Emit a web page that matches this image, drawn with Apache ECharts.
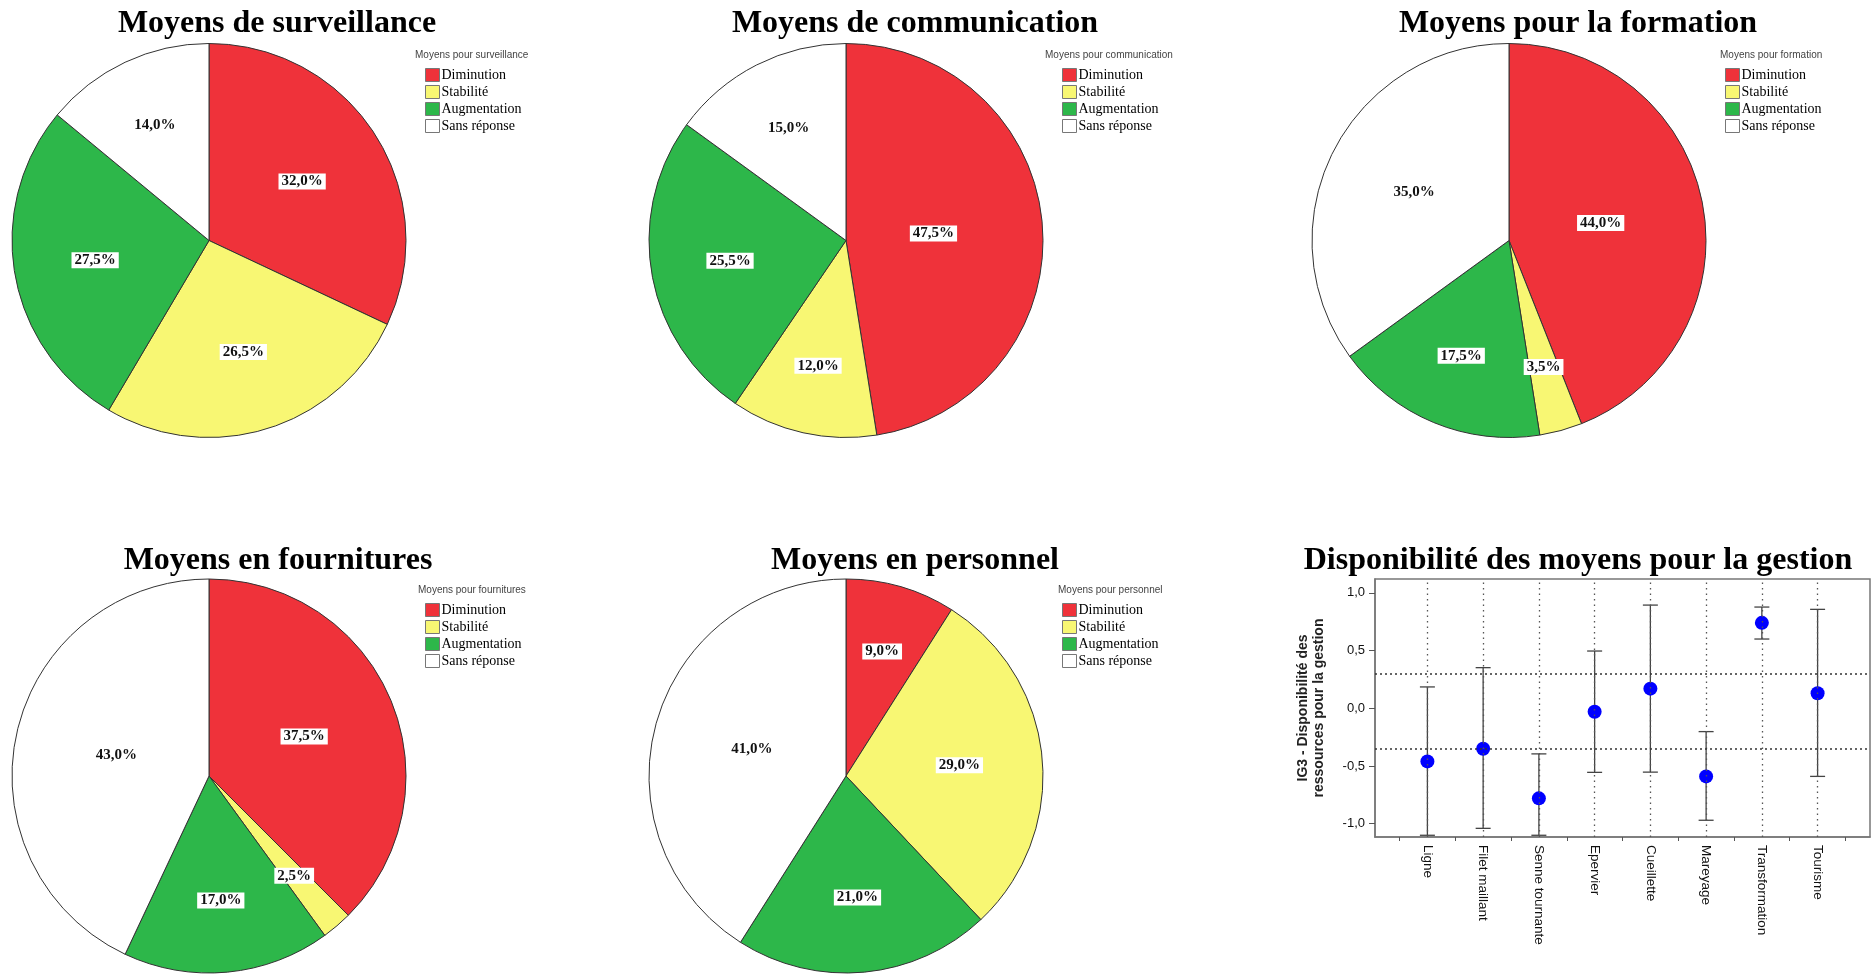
<!DOCTYPE html>
<html><head><meta charset="utf-8">
<script src="https://cdn.jsdelivr.net/npm/echarts@6/dist/echarts.min.js"></script>
<style>html,body{margin:0;padding:0;background:#fff}#c{width:1873px;height:977px}</style>
</head><body><div id="c"></div>
<script>
// ---- data ----
const pieNames = ['Diminution', 'Stabilité', 'Augmentation', 'Sans réponse'];
const pieTitles = ['Moyens de surveillance', 'Moyens de communication', 'Moyens pour la formation', 'Moyens en fournitures', 'Moyens en personnel'];
const legendTitles = ['Moyens pour surveillance', 'Moyens pour communication', 'Moyens pour formation', 'Moyens pour fournitures', 'Moyens pour personnel'];
const surveillance = [32.0, 26.5, 27.5, 14.0];
const communication = [47.5, 12.0, 25.5, 15.0];
const formation = [44.0, 3.5, 17.5, 35.0];
const fournitures = [37.5, 2.5, 17.0, 43.0];
const personnel = [9.0, 29.0, 21.0, 41.0];
const pieValues = [surveillance, communication, formation, fournitures, personnel];

const ig3Title = 'Disponibilité des moyens pour la gestion';
const ig3AxisName = 'IG3 - Disponibilité des\nressources pour la gestion';
const ig3Categories = ['Ligne', 'Filet maillant', 'Senne tournante', 'Epervier', 'Cueillette', 'Mareyage', 'Transformation', 'Tourisme'];
const ig3Means = [-0.46, -0.35, -0.78, -0.03, 0.17, -0.59, 0.74, 0.13];
const ig3Low = [-1.10, -1.04, -1.10, -0.555, -0.553, -0.97, 0.60, -0.59];
const ig3High = [0.185, 0.352, -0.395, 0.496, 0.894, -0.202, 0.877, 0.857];
const ig3Thresholds = [0.3, -0.35];
const ig3YTicks = [-1.0, -0.5, 0.0, 0.5, 1.0];

// ---- layout ----
const pieColors = ['#EF323A', '#F8F773', '#2DB74A', '#FFFFFF'];
const pieCenters = [[209, 240.5], [846, 240.5], [1509, 240.5], [209, 776], [846, 776]];
const pieR = 197;
const titleCenters = [[277, 8], [915, 8], [1578, 8], [278, 545], [915, 545], [1578, 545]];
const legendPos = [[425, 68], [1062, 68], [1725, 68], [425, 603], [1062, 603]];
const legendTitlePos = [[415, 49], [1045, 49], [1720, 49], [418, 584], [1058, 584]];

const fmt = v => v.toFixed(1).replace('.', ',');

function centroid(si, di) {
  const vals = pieValues[si];
  const total = vals.reduce((a, b) => a + b, 0);
  let before = 0;
  for (let i = 0; i < di; i++) before += vals[i];
  const frac = vals[di] / total;
  const mid = (before + vals[di] / 2) / total * 2 * Math.PI;
  const alpha = frac * Math.PI;
  const d = pieR * 2 * Math.sin(alpha) / (3 * alpha);
  const c = pieCenters[si];
  return [c[0] + d * Math.sin(mid), c[1] - d * Math.cos(mid)];
}

const titles = [];
pieTitles.concat([ig3Title]).forEach((t, i) => {
  titles.push({
    text: t, left: titleCenters[i][0], top: titleCenters[i][1], textAlign: 'center', padding: 0,
    textStyle: { fontFamily: 'Liberation Serif', fontWeight: 'bold', fontSize: 32, color: '#000', lineHeight: 32 }
  });
});
legendTitles.forEach((t, i) => {
  titles.push({
    text: t, left: legendTitlePos[i][0], top: legendTitlePos[i][1], padding: 0,
    textStyle: { fontFamily: 'Liberation Sans', fontWeight: 'normal', fontSize: 10, color: '#444', lineHeight: 12 }
  });
});

const legends = legendPos.map(p => ({
  data: pieNames, orient: 'vertical', left: p[0], top: p[1], padding: 0,
  icon: 'rect', itemWidth: 14, itemHeight: 13, itemGap: 3,
  selectedMode: false,
  itemStyle: { borderColor: '#777', borderWidth: 1 },
  textStyle: { fontFamily: 'Liberation Serif', fontSize: 14, color: '#000', padding: [0, 0, 0, -3], lineHeight: 14 }
}));

const series = pieValues.map((vals, si) => ({
  type: 'pie', center: pieCenters[si], radius: [0, pieR], startAngle: 90, clockwise: true,
  animation: false, silent: true,
  data: vals.map((v, i) => ({ name: pieNames[i], value: v, itemStyle: { color: pieColors[i] } })),
  itemStyle: { borderColor: '#333', borderWidth: 1 },
  label: {
    show: true, position: 'inside', formatter: p => fmt(p.value) + '%',
    fontFamily: 'Liberation Serif', fontWeight: 'bold', fontSize: 15, color: '#111',
    backgroundColor: '#fff', padding: [1, 3], lineHeight: 14
  },
  labelLine: { show: false },
  labelLayout: params => {
    const p = centroid(params.seriesIndex, params.dataIndex);
    return { x: p[0], y: p[1], align: 'center', verticalAlign: 'middle' };
  }
}));

const idx = ig3Categories.map((c, i) => i);
series.push({
  type: 'custom', xAxisIndex: 0, yAxisIndex: 0, animation: false, silent: true, clip: true,
  data: idx.map(i => [i, ig3Low[i], ig3High[i]]),
  renderItem: (params, api) => {
    const lo = api.coord([api.value(0), api.value(1)]);
    const hi = api.coord([api.value(0), api.value(2)]);
    const w = 7.5;
    const st = { stroke: '#444', lineWidth: 1.3 };
    return { type: 'group', children: [
      { type: 'line', shape: { x1: lo[0], y1: lo[1], x2: hi[0], y2: hi[1] }, style: st },
      { type: 'line', shape: { x1: lo[0] - w, y1: lo[1], x2: lo[0] + w, y2: lo[1] }, style: st },
      { type: 'line', shape: { x1: hi[0] - w, y1: hi[1], x2: hi[0] + w, y2: hi[1] }, style: st }
    ] };
  },
  z: 3
});
series.push({
  type: 'scatter', xAxisIndex: 0, yAxisIndex: 0, animation: false, silent: true,
  data: idx.map(i => [i, ig3Means[i]]), symbolSize: 14, itemStyle: { color: '#0000FF', opacity: 1 }, z: 4,
  markLine: {
    silent: true, symbol: ['none', 'none'], label: { show: false }, animation: false,
    lineStyle: { type: [2, 3], color: '#333', width: 1.5 },
    data: idx.map(i => ({ xAxis: i, lineStyle: { type: [1.5, 4], color: '#555', width: 1.3 } }))
      .concat(ig3Thresholds.map(t => ({ yAxis: t })))
  }
});

const option = {
  backgroundColor: '#fff',
  animation: false,
  title: titles,
  legend: legends,
  grid: [{ left: 1375, right: 3, top: 579, bottom: 140, show: true, borderColor: '#777', borderWidth: 1.5, containLabel: false }],
  xAxis: [{
    type: 'value', min: -0.94, max: 7.94, gridIndex: 0,
    axisLine: { show: true, onZero: false, lineStyle: { color: '#777', width: 1.5 } },
    splitLine: { show: false },
    axisTick: { show: true, customValues: idx.slice().concat([ig3Categories.length]).map(i => i - 0.5), length: 4, lineStyle: { color: '#555' } },
    axisLabel: {
      customValues: idx, formatter: v => ig3Categories[Math.round(v)] || '', rotate: -90, margin: 8,
      fontFamily: 'Liberation Sans', fontSize: 13.5, color: '#111'
    }
  }],
  yAxis: [{
    type: 'value', min: -1.115, max: 1.12, gridIndex: 0,
    name: ig3AxisName, nameLocation: 'middle', nameGap: 48,
    nameTextStyle: { fontFamily: 'Liberation Sans', fontWeight: 'bold', fontSize: 14, color: '#222', lineHeight: 16 },
    axisLine: { show: true, onZero: false, lineStyle: { color: '#777', width: 1.5 } },
    splitLine: { show: false },
    axisTick: { show: true, customValues: ig3YTicks, length: 6, lineStyle: { color: '#555' } },
    axisLabel: { customValues: ig3YTicks, formatter: v => fmt(v), margin: 10, fontFamily: 'Liberation Sans', fontSize: 13, color: '#111' }
  }],
  series: series
};

const chart = echarts.init(document.getElementById('c'), null, { renderer: 'canvas' });
chart.setOption(option);
</script>
</body></html>
